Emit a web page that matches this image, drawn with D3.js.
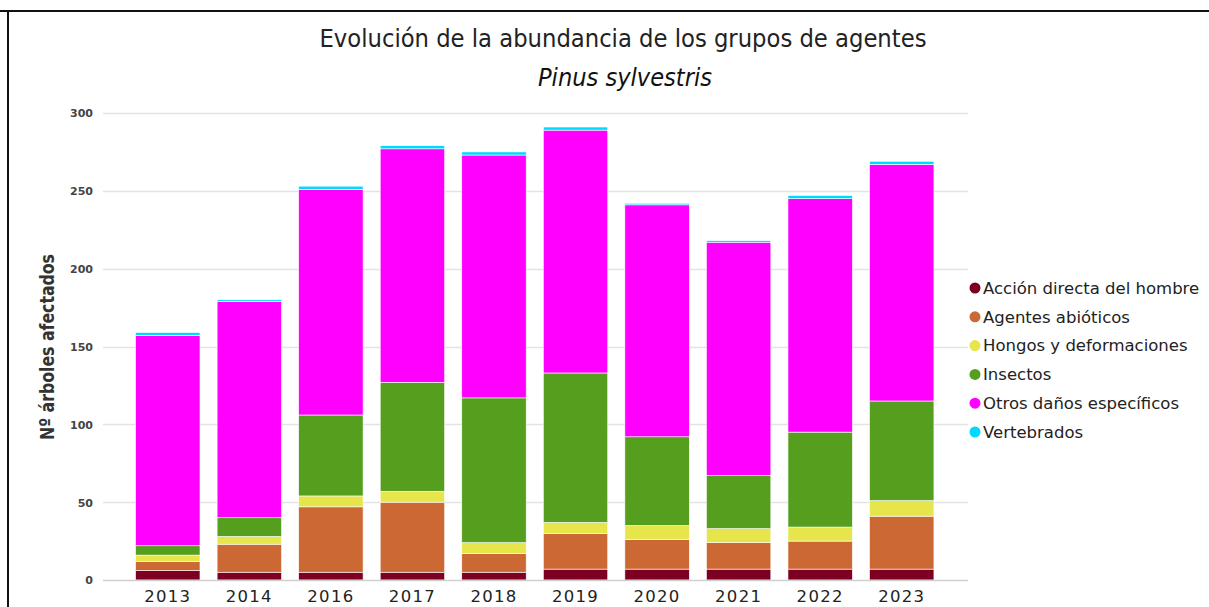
<!DOCTYPE html>
<html><head><meta charset="utf-8">
<script src="https://cdn.jsdelivr.net/npm/d3@7/dist/d3.min.js"></script>
<style>html,body{margin:0;padding:0;background:#fff;}svg{display:block;}</style>
</head><body>
<svg id="chart" width="1209" height="607"></svg>
<script>
const years = ["2013","2014","2016","2017","2018","2019","2020","2021","2022","2023"];
const seriesNames = ["Acción directa del hombre","Agentes abióticos","Hongos y deformaciones","Insectos","Otros daños específicos","Vertebrados"];
const seriesColors = ["#7d0022","#cc6834","#e6e54c","#569e1e","#ff00ff","#00d9ff"];
const accionDirecta = [6, 5, 5, 5, 5, 7, 7, 7, 7, 7];
const abioticos     = [6, 18, 42, 45, 12, 23, 19, 17, 18, 34];
const hongos        = [4, 5, 7, 7, 7, 7, 9, 9, 9, 10];
const insectos      = [6, 12, 52, 70, 93, 96, 57, 34, 61, 64];
const otros         = [135, 139, 145, 150, 156, 156, 149, 150, 150, 152];
const vertebrados   = [2, 1, 2, 2, 2, 2, 1, 1, 2, 2];
const yTicks = [0, 50, 100, 150, 200, 250, 300];
const titleText = "Evolución de la abundancia de los grupos de agentes";
const subtitleText = "Pinus sylvestris";
const yAxisTitle = "Nº árboles afectados";

const seriesValues = [accionDirecta, abioticos, hongos, insectos, otros, vertebrados];
const table = years.map((y, i) => {
  const row = {year: y};
  seriesNames.forEach((s, k) => row[s] = seriesValues[k][i]);
  return row;
});

const narrow = "'Liberation Sans Narrow', 'DejaVu Sans Condensed', 'Open Sans', sans-serif";
const svg = d3.select("#chart");
// frame lines
svg.append("line").attr("x1", 0).attr("x2", 1209).attr("y1", 11).attr("y2", 11).attr("stroke", "#111").attr("stroke-width", 2);
svg.append("line").attr("x1", 8).attr("x2", 8).attr("y1", 10).attr("y2", 607).attr("stroke", "#111").attr("stroke-width", 2);

const plotLeft = 103, plotRight = 968;
const x = d3.scaleBand().domain(years).range([127, 942.5]).paddingInner(0.21).paddingOuter(0.105);
const y = d3.scaleLinear().domain([0, 300]).range([580, 113]);

// grid
const grid = svg.append("g");
grid.selectAll("line").data(yTicks.filter(t => t > 0)).join("line")
  .attr("x1", plotLeft).attr("x2", plotRight)
  .attr("y1", d => Math.round(y(d)) + 0.5).attr("y2", d => Math.round(y(d)) + 0.5)
  .attr("stroke", "#e3e3e3").attr("stroke-width", 1.5);

// y axis labels
const yAxis = d3.axisLeft(y).tickValues(yTicks).tickSize(0).tickPadding(0);
const yg = svg.append("g").attr("transform", `translate(93,0)`).call(yAxis);
yg.select(".domain").remove();
yg.selectAll("text").attr("font-family", "DejaVu Sans, Verdana, sans-serif").attr("font-size", 11)
  .attr("font-weight", "bold").attr("fill", "#444").attr("dy", "0.35em");

// stacked bars
const stack = d3.stack().keys(seriesNames);
const layers = stack(table);
const color = d3.scaleOrdinal().domain(seriesNames).range(seriesColors);
svg.append("g").selectAll("g").data(layers).join("g")
  .attr("fill", d => color(d.key))
  .selectAll("rect").data(d => d).join("rect")
  .attr("x", d => x(d.data.year))
  .attr("width", x.bandwidth())
  .attr("y", d => y(d[1]))
  .attr("height", d => y(d[0]) - y(d[1]))
  .attr("stroke", "#fff").attr("stroke-width", 0.6);

// baseline
svg.append("line").attr("x1", plotLeft).attr("x2", plotRight).attr("y1", 580.5).attr("y2", 580.5)
  .attr("stroke", "#d0d0d0").attr("stroke-width", 1.5);

// x axis
const xAxis = d3.axisBottom(x).tickSize(0).tickPadding(0);
const xg = svg.append("g").attr("transform", "translate(0,590)").call(xAxis);
xg.select(".domain").remove();
xg.selectAll("text").attr("font-family", "DejaVu Sans, sans-serif").attr("font-size", 16.5)
  .attr("letter-spacing", "1.3px").attr("fill", "#222").attr("dy", "0.71em");

// titles
svg.append("text").attr("x", 623).attr("y", 47).attr("text-anchor", "middle")
  .attr("font-family", narrow).attr("font-size", 25)
  .attr("fill", "#222").attr("textLength", 607).attr("lengthAdjust", "spacingAndGlyphs").text(titleText);
svg.append("text").attr("x", 625).attr("y", 86).attr("text-anchor", "middle")
  .attr("font-family", narrow).attr("font-size", 25)
  .attr("font-style", "italic").attr("fill", "#111").attr("textLength", 174).attr("lengthAdjust", "spacingAndGlyphs").text(subtitleText);

// y axis title
svg.append("text").attr("transform", "translate(54,347) rotate(-90)").attr("text-anchor", "middle")
  .attr("font-family", narrow).attr("font-size", 20)
  .attr("font-weight", "bold").attr("fill", "#333").attr("textLength", 186).attr("lengthAdjust", "spacingAndGlyphs").text(yAxisTitle);

// legend
const legend = svg.append("g");
const items = legend.selectAll("g").data(seriesNames).join("g")
  .attr("transform", (d, i) => `translate(975,${288 + i * 28.8})`);
items.append("circle").attr("r", 5.5).attr("cx", 0).attr("cy", 0).attr("fill", d => color(d));
items.append("text").attr("x", 8).attr("y", 0).attr("dy", "0.35em")
  .attr("font-family", "DejaVu Sans, sans-serif").attr("font-size", 16.5).attr("fill", "#222").text(d => d);
</script>
</body></html>
